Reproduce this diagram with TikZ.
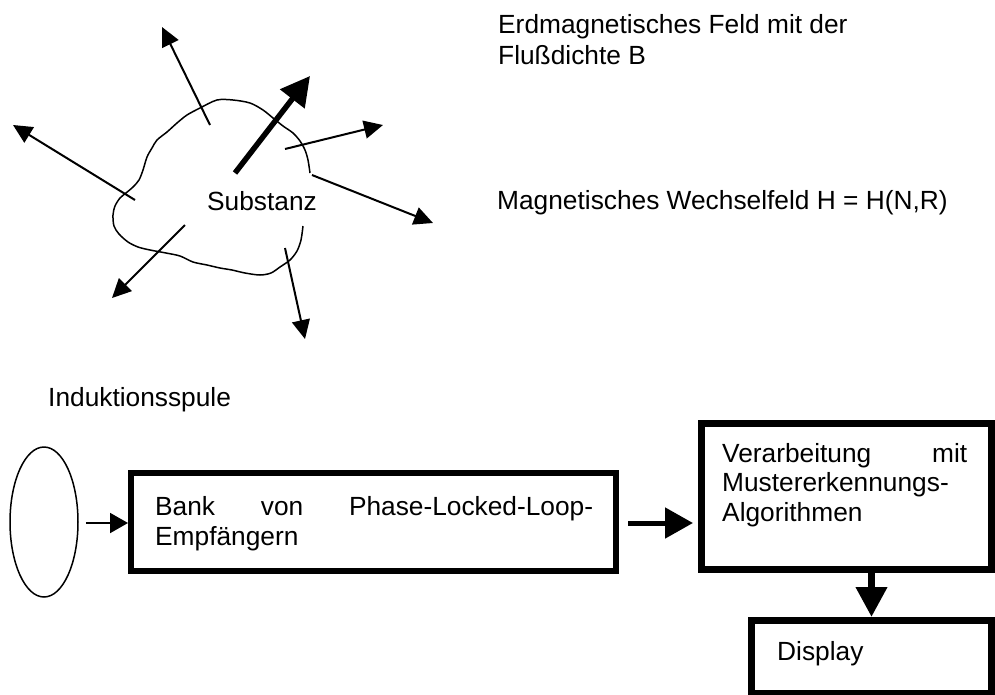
\documentclass[tikz,border=0pt]{standalone}
\usepackage{fontspec}
\setmainfont{Liberation Sans}
\usetikzlibrary{arrows.meta,shapes.geometric}
\begin{document}
\begin{tikzpicture}[x=1pt,y=-1pt,
  lbl/.style={inner sep=0pt,anchor=base west,align=left,font=\fontsize{26.3}{29.5}\selectfont},
  thinarrow/.style={line width=2pt,-{Triangle[length=19pt,width=18pt]}},
  boxnode/.style={draw,rectangle,inner sep=0pt},
]
\useasboundingbox (0,0) rectangle (995,694);

% substance blob (open on the right)
\draw[line width=1.5pt] plot[smooth] coordinates {
 (310,173) (308,160) (305,150) (300,141) (293,133) (283,126) (273,118) (263,110)
 (250,103) (233,100) (217,100) (200,108) (187,115) (177,123) (167,132) (157,140)
 (152,148) (147,157) (143,170) (139,180) (133,187) (126,193) (120,198) (115,206)
 (113,215) (114,226) (119,234) (128,242) (138,247) (150,250) (166,253) (180,256)
 (193,262) (207,265) (220,268) (232,270) (245,273) (260,275) (271,273) (280,267)
 (290,260) (297,251) (301,240) (303,226)};

% field arrows
\coordinate (a1s) at (210,125); \coordinate (a1e) at (162,27);
\coordinate (a2s) at (135,200); \coordinate (a2e) at (13,125);
\coordinate (a4s) at (285,149); \coordinate (a4e) at (383,125);
\coordinate (a5s) at (312,175); \coordinate (a5e) at (433,223);
\coordinate (a6s) at (185,225); \coordinate (a6e) at (112,298);
\coordinate (a7s) at (285,248); \coordinate (a7e) at (305,339);
\coordinate (bs) at (235,173); \coordinate (be) at (310,76);
\draw[thinarrow] (a1s) -- (a1e);
\draw[thinarrow] (a2s) -- (a2e);
\draw[thinarrow] (a4s) -- (a4e);
\draw[thinarrow] (a5s) -- (a5e);
\draw[thinarrow] (a6s) -- (a6e);
\draw[thinarrow] (a7s) -- (a7e);
\draw[line width=5.5pt,-{Triangle[length=29pt,width=30pt]}] (bs) -- (be);

% texts (base anchor = baseline of the last line)
\node[lbl,font=\fontsize{26.3}{31}\selectfont] (erd) at (498,64) {Erdmagnetisches Feld mit der\\Flußdichte B};
\node[lbl] (subst) at (207,210) {Substanz};
\node[lbl] (wechsel) at (497,209) {Magnetisches Wechselfeld H = H(N,R)};
\node[lbl] (induk) at (48,406) {Induktionsspule};

% coil and processing chain
\node[draw,ellipse,line width=1.5pt,minimum width=68pt,minimum height=150pt,inner sep=0pt] (coil) at (44,522) {};
\node[boxnode,line width=6pt,minimum width=485pt,minimum height=98pt] (box1) at (373.5,522) {};
\node[boxnode,line width=7pt,minimum width=290pt,minimum height=146pt] (box2) at (846.5,496.5) {};
\node[boxnode,line width=7pt,minimum width=240pt,minimum height=73pt] (disp) at (871.5,657) {};

\node[lbl] (t1) at (155,545) {\makebox[438pt][s]{Bank von Phase-Locked-Loop-}\\Empfängern};
\node[lbl] (t2) at (722,521) {\makebox[245pt][s]{Verarbeitung mit}\\Mustererkennungs-\\Algorithmen};
\node[lbl] (t3) at (777,660) {Display};

\draw[line width=2pt,-{Triangle[length=18pt,width=20pt]},shorten <=7pt] (coil.east |- 0,523) -- (box1.west |- 0,523);
\draw[line width=5pt,-{Triangle[length=28pt,width=30pt]},shorten <=9pt,shorten >=5pt] (box1.east |- 0,523) -- (box2.west |- 0,523);
\draw[line width=7pt,-{Triangle[length=30pt,width=30pt]}] (disp.north |- box2.south) -- (disp.north);
\end{tikzpicture}
\end{document}
